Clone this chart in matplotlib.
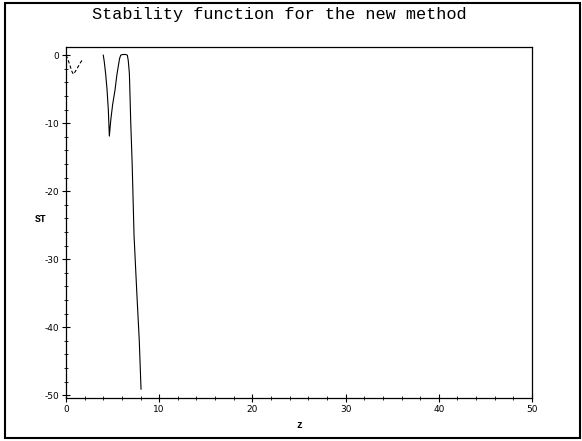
import matplotlib
matplotlib.use("Agg")
import matplotlib.pyplot as plt
from matplotlib.patches import Rectangle
from matplotlib.ticker import MultipleLocator

plt.rcParams['axes.unicode_minus'] = False

# dashed branch near the origin
z_dash = [0.0, 0.2, 0.4, 0.6, 0.78, 1.0, 1.3, 1.55, 1.8]
st_dash = [0.0, -0.6, -1.4, -2.3, -2.8, -2.4, -1.7, -1.1, -0.6]

# solid branch
z_solid = [4.0, 4.1, 4.25, 4.4, 4.54, 4.65, 4.8, 5.0, 5.26, 5.45, 5.6, 5.75, 5.87,
           6.1, 6.4, 6.58, 6.68, 6.8, 6.87, 6.94, 7.1, 7.3, 7.6, 7.86, 8.05]
st_solid = [0.0, -0.9, -2.7, -5.0, -8.0, -11.9, -9.6, -7.3, -5.1, -3.0, -1.7, -0.5, 0.0,
            0.1, 0.1, 0.0, -0.8, -2.7, -6.0, -9.6, -16.0, -26.5, -35.0, -41.9, -49.1]

fig = plt.figure(figsize=(5.82, 4.41), dpi=100)
fig.patches.append(Rectangle((5 / 582, 3 / 441), 575 / 582, 435 / 441,
                             transform=fig.transFigure, fill=False,
                             edgecolor="black", linewidth=1.5))

ax = fig.add_axes([66 / 582, 1 - 398 / 441, 466 / 582, 351 / 441])
ax.plot(z_dash, st_dash, color="black", linestyle=(0, (3, 2)), linewidth=0.8)
ax.plot(z_solid, st_solid, color="black", linewidth=0.8)

ax.set_xlim(0, 50)
ax.set_ylim(-50.4, 1.2)
ax.xaxis.set_major_locator(MultipleLocator(10))
ax.xaxis.set_minor_locator(MultipleLocator(2))
ax.yaxis.set_major_locator(MultipleLocator(10))
ax.yaxis.set_minor_locator(MultipleLocator(2))
ax.tick_params(which="major", direction="inout", length=6, width=0.8,
               labelsize=6.5, pad=2)
ax.tick_params(which="minor", direction="inout", length=3, width=0.6)
for s in ax.spines.values():
    s.set_linewidth(0.9)

ax.set_xlabel("z", fontfamily="Liberation Mono", fontsize=7, fontweight="bold",
              labelpad=4)
ax.set_ylabel("ST", fontfamily="Liberation Mono", fontsize=7, fontweight="bold",
              rotation=0, labelpad=0)
ax.yaxis.set_label_coords(-0.055, 0.495)

fig.text(279 / 582, 1 - 14 / 441, "Stability function for the new method",
         ha="center", va="center", fontfamily="Liberation Mono", fontsize=12.2)

fig.savefig("out.png", dpi=100)
